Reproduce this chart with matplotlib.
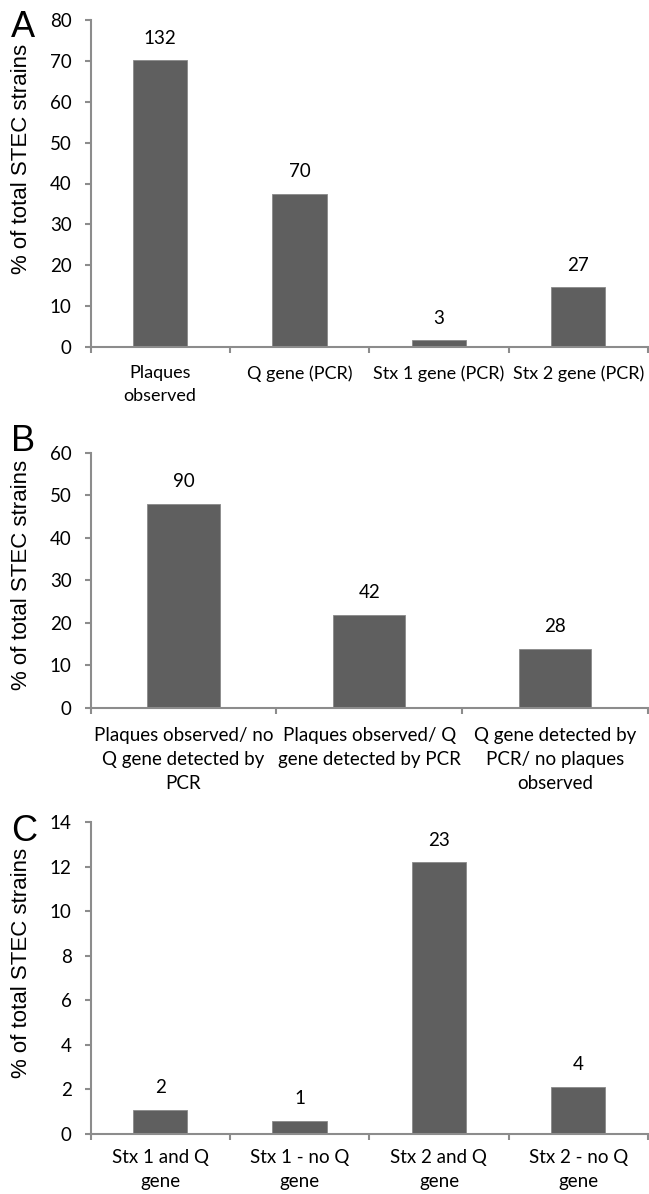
import numpy as np
import matplotlib.pyplot as plt

# Panel A
labels_a = ['Plaques\nobserved', 'Q gene (PCR)', 'Stx 1 gene (PCR)', 'Stx 2 gene (PCR)']
pct_a = [70.1, 37.4, 1.6, 14.6]
counts_a = ['132', '70', '3', '27']

# Panel B
labels_b = ['Plaques observed/ no\nQ gene detected by\nPCR',
            'Plaques observed/ Q\ngene detected by PCR',
            'Q gene detected by\nPCR/ no plaques\nobserved']
pct_b = [47.9, 21.9, 13.9]
counts_b = ['90', '42', '28']

# Panel C
labels_c = ['Stx 1 and Q\ngene', 'Stx 1 - no Q\ngene', 'Stx 2 and Q\ngene', 'Stx 2 - no Q\ngene']
pct_c = [1.08, 0.58, 12.2, 2.12]
counts_c = ['2', '1', '23', '4']

W, H = 649, 1194
fig = plt.figure(figsize=(W / 100, H / 100), dpi=100)

bar_color = '#5f5f5f'
axis_color = '#8c8c8c'
tick_font = 'Lato'
label_font = 'Liberation Sans'
fs = 13.5


def panel(top_px, bottom_px, labels, vals, counts, ymax, ystep, letter, letter_base,
          ylab_frac, xpad, xfs=fs):
    left_px, right_px = 90.5, 648
    ax = fig.add_axes([left_px / W, 1 - bottom_px / H,
                       (right_px - left_px) / W, (bottom_px - top_px) / H])
    n = len(vals)
    x = np.arange(n)
    ax.bar(x, vals, width=0.39, color=bar_color, edgecolor='#8a8a8a', linewidth=0.6, zorder=2)
    for xi, v, c in zip(x, vals, counts):
        ax.annotate(c, (xi, v), xytext=(0, 16), textcoords='offset points',
                    ha='center', va='center', fontsize=fs, family=tick_font)
    ax.set_xlim(-0.5, n - 0.5)
    ax.set_ylim(0, ymax)
    ax.set_yticks(np.arange(0, ymax + 0.01, ystep))
    ax.set_xticks(x)
    ax.set_xticklabels(labels, fontsize=xfs, family=tick_font, linespacing=1.5)
    ax.set_xticks(np.arange(n + 1) - 0.5, minor=True)
    ax.tick_params(axis='x', which='major', length=0, pad=xpad)
    ax.tick_params(axis='x', which='minor', length=4.5, width=1.5, color=axis_color)
    ax.tick_params(axis='y', length=4.5, width=1.5, color=axis_color, labelsize=fs, pad=9)
    for t in ax.get_yticklabels():
        t.set_family(tick_font)
    for s in ['top', 'right']:
        ax.spines[s].set_visible(False)
    for s in ['left', 'bottom']:
        ax.spines[s].set_color(axis_color)
        ax.spines[s].set_linewidth(1.5)
    ax.set_ylabel('% of total STEC strains', fontsize=16, family=label_font)
    ax.yaxis.set_label_coords(-0.105, ylab_frac)
    fig.text(11 / W, 1 - letter_base / H, letter, fontsize=26, family=label_font,
             ha='left', va='baseline')
    return ax


panel(20, 347, labels_a, pct_a, counts_a, 80, 10, 'A', 37, 0.575, 13, xfs=13)
panel(452.7, 708, labels_b, pct_b, counts_b, 60, 10, 'B', 451, 0.52, 14)
panel(822.3, 1134, labels_c, pct_c, counts_c, 14, 2, 'C', 841, 0.55, 11)

plt.savefig('out.png', dpi=100)
